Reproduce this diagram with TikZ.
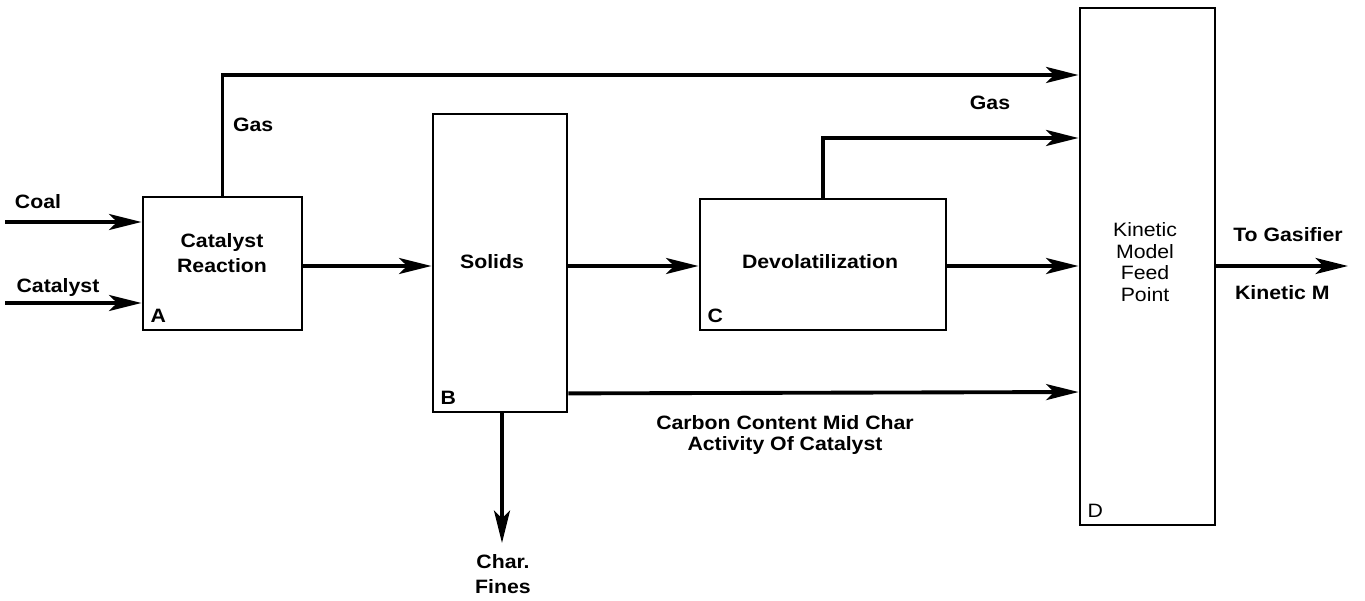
\documentclass[tikz,border=0pt]{standalone}
\usepackage{fontspec}
\setmainfont[FakeStretch=1.1]{Liberation Sans}
\usetikzlibrary{arrows.meta}
\tikzset{
  unit/.style={draw,line width=1.6pt,inner sep=0pt},
  flow/.style={line width=2.2pt,-{Stealth[length=6.5mm,width=3.2mm,inset=1.6mm]}},
  tag/.style={inner sep=1pt,align=center},
  corner/.style={inner sep=5pt,anchor=south west}
}
\begin{document}
\begin{tikzpicture}[font=\fontsize{11}{12}\selectfont\bfseries]
\useasboundingbox (0,0) rectangle (27.3,12);

% blocks
\node[unit,minimum width=3.18cm,minimum height=2.66cm] (cat) at (4.45,6.73) {};
\node[unit,minimum width=2.68cm,minimum height=5.96cm] (sol) at (10.0,6.74) {};
\node[unit,minimum width=4.92cm,minimum height=2.62cm] (dev) at (16.46,6.71) {};
\node[unit,minimum width=2.7cm,minimum height=10.34cm] (kin) at (22.95,6.67) {};
\node[tag,font=\fontsize{11}{14}\selectfont\bfseries] (cattxt) at (4.44,6.94) {Catalyst\\Reaction};
\node[tag] (soltxt) at (9.84,6.76) {Solids};
\node[tag] (devtxt) at (16.4,6.76) {Devolatilization};
\node[tag,font=\fontsize{11}{12.2}\selectfont] (kintxt) at (22.9,6.76) {Kinetic\\Model\\Feed\\Point};
\node[corner] (la) at (cat.south west) {A};
\node[corner] (lb) at (sol.south west) {B};
\node[corner] (lc) at (dev.south west) {C};
\node[corner,font=\fontsize{11}{12}\selectfont] (ld) at (kin.south west) {D};

% ends
\coordinate (row) at (0,6.68);
\coordinate (coalin) at (0.1,7.56);
\coordinate (catin) at (0.1,5.94);
\coordinate (out) at (26.96,6.68);
\coordinate (fines) at (10.04,1.14);

% streams
\draw[flow] (coalin) -- (cat.west |- coalin);
\draw[flow] (catin) -- (cat.west |- catin);
\draw[flow] (cat.north) |- ([yshift=3.83cm]kin.west);
\draw[flow] (cat.east |- row) -- (sol.west |- row);
\draw[flow] (sol.east |- row) -- (dev.west |- row);
\draw[flow] (dev.north) |- ([yshift=2.57cm]kin.west);
\draw[flow] (dev.east |- row) -- (kin.west |- row);
\draw[flow] ([yshift=0.4cm]sol.south east) -- (kin.west |- 0,4.16);
\draw[flow] (sol.south -| fines) -- (fines);
\draw[flow] (kin.east |- row) -- (out);

% labels
\node[tag] (coal) at (0.76,7.96) {Coal};
\node[tag] (catl) at (1.16,6.24) {Catalyst};
\node[tag,anchor=west] (gas1) at (4.62,9.5) {Gas};
\node[tag] (gas2) at (19.8,9.94) {Gas};
\node[tag] (carb) at (15.7,3.3) {Carbon Content Mid Char\\Activity Of Catalyst};
\node[tag,font=\fontsize{11}{14}\selectfont\bfseries] (char) at (10.06,0.52) {Char.\\Fines};
\node[tag] (togas) at (25.76,7.3) {To Gasifier};
\node[tag,anchor=west] (kinm) at (24.66,6.14) {Kinetic M};
\end{tikzpicture}
\end{document}
